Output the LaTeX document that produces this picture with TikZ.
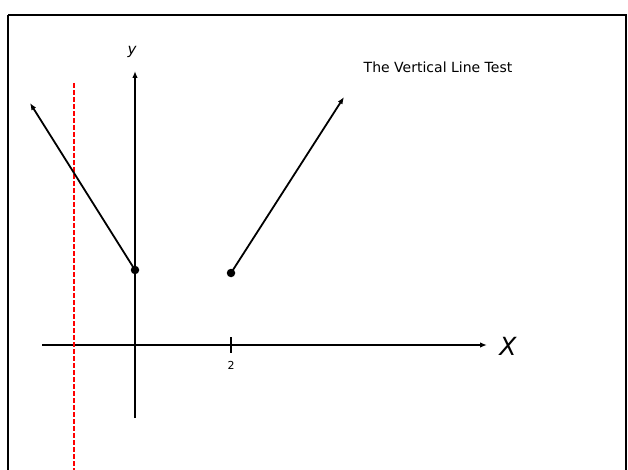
\documentclass[tikz,border=0pt]{standalone}
\usepackage{fontspec}
\setmainfont{DejaVu Sans}
\usetikzlibrary{arrows.meta}
\begin{document}
\begin{tikzpicture}[x=1pt,y=-1pt,
  axis/.style={line width=2pt,-{Latex[length=7pt,width=5.5pt]}},
  ray/.style={line width=1.8pt,-{Latex[length=7pt,width=5.5pt]}},
  dot/.style={circle,fill=black,inner sep=0pt,minimum size=8.5pt},
  lbl/.style={inner sep=0pt}]
\useasboundingbox (0,0) rectangle (628,470);
\clip (0,0) rectangle (628,470);
\fill[white] (0,0) rectangle (628,470);
\draw[line width=2.5pt] (8,15) -- (8,480) (8,15) -- (626,15) -- (626,480);
% axes
\coordinate (xs) at (42,345);
\coordinate (xe) at (487,345);
\coordinate (ys) at (135,418);
\coordinate (ye) at (135,71);
\draw[axis] (xs) -- (xe);
\draw[axis] (ys) -- (ye);
\node[lbl,font=\fontsize{25}{25}\selectfont\itshape] (xl) at (508,346) {X};
\node[lbl,font=\fontsize{15}{15}\selectfont\itshape] (yl) at (132,52) {y};
% tick
\coordinate (t1) at (231,337);
\coordinate (t2) at (231,353);
\draw[line width=2pt] (t1) -- (t2);
\node[lbl,font=\fontsize{11}{11}\selectfont] (two) at (231,365) {2};
% red dashed vertical line
\coordinate (r1) at (74,83);
\coordinate (r2) at (74,470);
\draw[red,line width=1.1pt,dash pattern=on 5pt off 2pt] (r1) -- (r2);
% function pieces
\node[dot] (pa) at (135,270) {};
\node[dot] (pb) at (231,273) {};
\coordinate (la) at (30,103);
\coordinate (rb) at (344,97);
\draw[ray] (pa.center) -- (la);
\draw[ray] (pb.center) -- (rb);
% title
\node[lbl,font=\fontsize{14}{14}\selectfont] (title) at (438,67) {The Vertical Line Test};
\end{tikzpicture}
\end{document}
